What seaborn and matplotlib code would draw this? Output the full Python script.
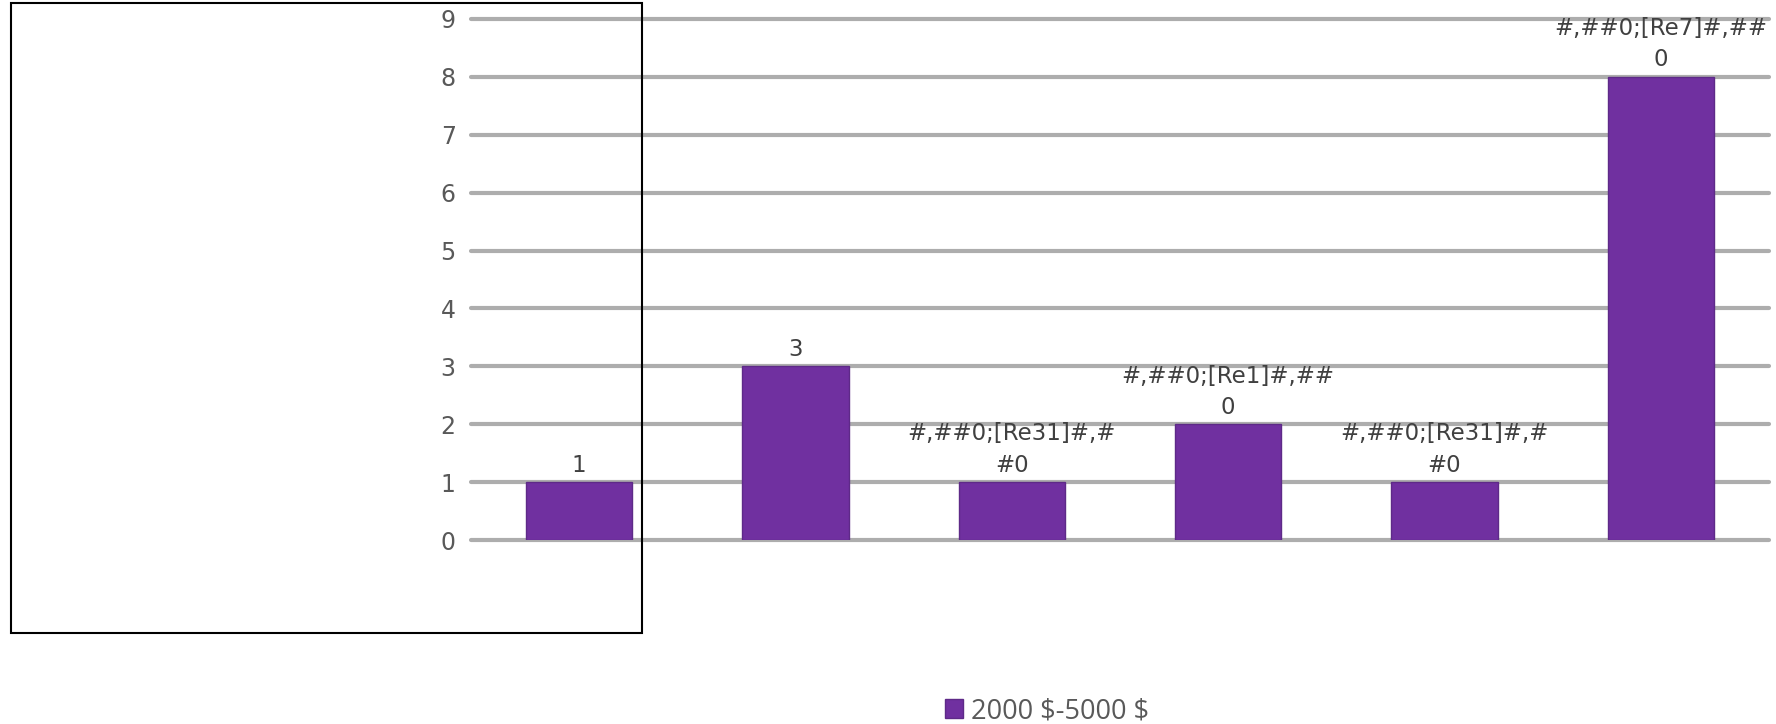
import matplotlib
matplotlib.use("Agg")
import matplotlib.pyplot as plt
import matplotlib.patches as mpatches
import pandas as pd
import seaborn as sns

categories = ["c1", "c2", "c3", "c4", "c5", "c6"]
values = [1, 3, 1, 2, 1, 8]
bar_labels = ["1", "3", "#,##0;[Re31]#,#\n#0", "#,##0;[Re1]#,##\n0",
              "#,##0;[Re31]#,#\n#0", "#,##0;[Re7]#,##\n0"]
series_name = "2000 $-5000 $"
y_ticks = [0, 1, 2, 3, 4, 5, 6, 7, 8, 9]

sns.set_style("white")
plt.rcParams['font.family'] = ['DejaVu Sans']

df = pd.DataFrame({"cat": categories, "val": values})

fig = plt.figure(figsize=(17.76, 7.24), dpi=100)
ax = fig.add_axes([471 / 1776, 1 - 540 / 724, 1298 / 1776, 521 / 724])

sns.barplot(data=df, x="cat", y="val", color="#7030a0", width=0.49,
            edgecolor="#5e2a88", linewidth=1, saturation=1,
            label=series_name.replace("$", r"\$"), legend=False, ax=ax, zorder=3)
if ax.get_legend() is not None:
    ax.get_legend().remove()

ax.set_ylim(0, 9)
ax.set_yticks(y_ticks)
for t in y_ticks:
    ax.axhline(t, color="#adadad", lw=3, zorder=1, clip_on=False)
ax.tick_params(axis="y", length=0, pad=11, labelsize=17, labelcolor="#595959")
ax.tick_params(axis="x", length=0, labelbottom=False)
ax.set_xlabel("")
ax.set_ylabel("")
for s in ax.spines.values():
    s.set_visible(False)

ax.bar_label(ax.containers[0], labels=bar_labels, padding=4, fontsize=16.5,
             color="#404040", linespacing=1.45)

handles, labels = ax.get_legend_handles_labels()
leg = fig.legend(handles, labels, loc="center", bbox_to_anchor=(1047 / 1776, 1 - 711 / 724),
                 frameon=False, handlelength=0.65, handleheight=0.65,
                 handletextpad=0.3, prop={"family": "Open Sans", "size": 19.5})
for txt in leg.get_texts():
    txt.set_color("#595959")

# stray black frame left over on the left side
fig.patches.append(mpatches.Rectangle((11 / 1776, 1 - 633 / 724), 631 / 1776, 630 / 724,
                                      transform=fig.transFigure, fill=False,
                                      edgecolor="black", lw=1.5, zorder=10))

fig.savefig("out.png", dpi=100)
